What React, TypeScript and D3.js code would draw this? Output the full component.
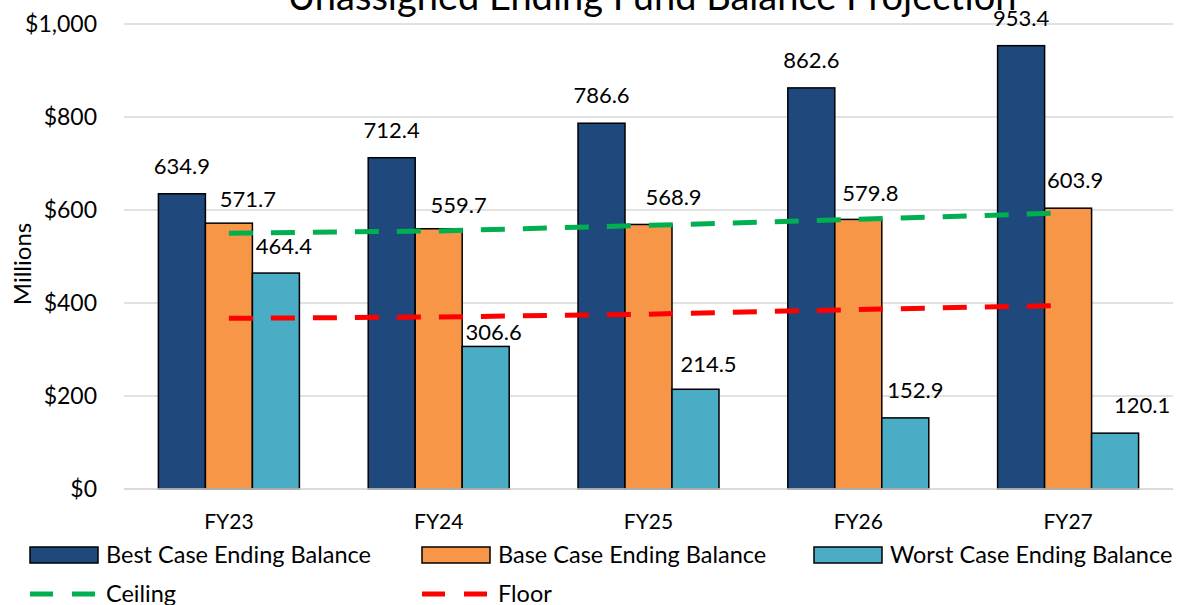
import React, { useEffect, useRef } from 'react';
import * as d3 from 'd3';

const categories = ['FY23', 'FY24', 'FY25', 'FY26', 'FY27'];
const bestCase = [634.9, 712.4, 786.6, 862.6, 953.4];
const baseCase = [571.7, 559.7, 568.9, 579.8, 603.9];
const worstCase = [464.4, 306.6, 214.5, 152.9, 120.1];
const ceiling = [550, 555, 567, 580, 594];
const floor = [367, 370, 376, 386, 395];
const yTicks = [0, 200, 400, 600, 800, 1000];

// manual label nudges (px), like the hand-placed labels in the original workbook
const labelDx = [
  [0, 19, 8],
  [0, 20, 8],
  [0, 25, 13],
  [0, 12, 10],
  [0, 7, 27],
];
const labelGap = [
  [20, 16, 19],
  [20, 16, 6],
  [20, 19, 17],
  [20, 18, 20],
  [20, 20, 20],
];

const FONT = 'Lato, Carlito, Calibri, sans-serif';

const App: React.FC = () => {
  const ref = useRef<SVGSVGElement>(null);

  useEffect(() => {
    drawChart();
  }, []);

  const drawChart = () => {
    const width = 1178;
    const height = 605;
    const margin = { top: 24, right: 5, bottom: 116, left: 124 };

    d3.select(ref.current).selectAll('*').remove();
    const svg = d3.select(ref.current).attr('width', width).attr('height', height);

    const series = [
      { name: 'Best Case Ending Balance', values: bestCase, color: '#1F497D' },
      { name: 'Base Case Ending Balance', values: baseCase, color: '#F79646' },
      { name: 'Worst Case Ending Balance', values: worstCase, color: '#4BACC6' },
    ];

    const x = d3.scaleBand<string>()
      .domain(categories)
      .range([margin.left, width - margin.right])
      .paddingInner(0.328)
      .paddingOuter(0.164);

    const xSub = d3.scaleBand<number>()
      .domain([0, 1, 2])
      .range([0, x.bandwidth()]);

    const y = d3.scaleLinear()
      .domain([0, 1000])
      .range([height - margin.bottom, margin.top]);

    // gridlines
    svg.selectAll('.grid')
      .data(yTicks)
      .enter().append('line')
      .attr('x1', margin.left)
      .attr('x2', width - margin.right)
      .attr('y1', d => y(d))
      .attr('y2', d => y(d))
      .attr('stroke', '#D9D9D9')
      .attr('stroke-width', 1.5);

    // y tick labels
    svg.selectAll('.ytick')
      .data(yTicks)
      .enter().append('text')
      .attr('x', 97)
      .attr('y', d => y(d))
      .attr('dy', '0.35em')
      .attr('text-anchor', 'end')
      .style('font-family', FONT)
      .style('font-size', '23px')
      .attr('fill', '#000')
      .text(d => '$' + d3.format(',')(d));

    // y axis title
    svg.append('text')
      .attr('transform', 'translate(31, 264) rotate(-90)')
      .attr('text-anchor', 'middle')
      .style('font-family', FONT)
      .style('font-size', '24px')
      .text('Millions');

    // title (cut off at the top like the original)
    svg.append('text')
      .attr('x', 652)
      .attr('y', 10)
      .attr('text-anchor', 'middle')
      .style('font-family', FONT)
      .style('font-size', '38px')
      .text('Unassigned Ending Fund Balance Projection');

    // bars
    series.forEach((s, si) => {
      svg.selectAll(`.bar-${si}`)
        .data(s.values)
        .enter().append('rect')
        .attr('x', (d, i) => (x(categories[i]) as number) + (xSub(si) as number))
        .attr('y', d => y(d))
        .attr('width', xSub.bandwidth())
        .attr('height', d => y(0) - y(d))
        .attr('fill', s.color)
        .attr('stroke', '#000')
        .attr('stroke-width', 1.5);
    });

    // reference lines
    const line = d3.line<number>()
      .x((d, i) => (x(categories[i]) as number) + x.bandwidth() / 2)
      .y(d => y(d));

    [{ values: ceiling, color: '#00B050' }, { values: floor, color: '#FF0000' }].forEach(l => {
      svg.append('path')
        .attr('d', line(l.values) as string)
        .attr('fill', 'none')
        .attr('stroke', l.color)
        .attr('stroke-width', 5)
        .attr('stroke-dasharray', '24 18');
    });

    // value labels
    series.forEach((s, si) => {
      svg.selectAll(`.label-${si}`)
        .data(s.values)
        .enter().append('text')
        .attr('x', (d, i) => (x(categories[i]) as number) + (xSub(si) as number) + xSub.bandwidth() / 2 + labelDx[i][si])
        .attr('y', (d, i) => y(d) - labelGap[i][si])
        .attr('text-anchor', 'middle')
        .style('font-family', FONT)
        .style('font-size', '22px')
        .attr('fill', '#000')
        .text(d => d.toFixed(1));
    });

    // x axis line and labels
    svg.append('line')
      .attr('x1', margin.left)
      .attr('x2', width - margin.right)
      .attr('y1', y(0))
      .attr('y2', y(0))
      .attr('stroke', '#D9D9D9')
      .attr('stroke-width', 1.5);

    svg.selectAll('.xlabel')
      .data(categories)
      .enter().append('text')
      .attr('x', d => (x(d) as number) + x.bandwidth() / 2)
      .attr('y', 529)
      .attr('text-anchor', 'middle')
      .style('font-family', FONT)
      .style('font-size', '21px')
      .text(d => d);

    // legend
    const legendItems = [
      ...series.map(s => ({ name: s.name, color: s.color, type: 'rect' })),
      { name: 'Ceiling', color: '#00B050', type: 'line' },
      { name: 'Floor', color: '#FF0000', type: 'line' },
    ];
    const legend = svg.selectAll('.legend')
      .data(legendItems)
      .enter().append('g')
      .attr('transform', (d, i) => `translate(${30 + (i % 3) * 392}, ${i < 3 ? 555 : 594})`);

    legend.filter(d => d.type === 'rect').append('rect')
      .attr('x', 0)
      .attr('y', -8)
      .attr('width', 68)
      .attr('height', 16)
      .attr('fill', d => d.color)
      .attr('stroke', '#000')
      .attr('stroke-width', 1.5);

    legend.filter(d => d.type === 'line').append('line')
      .attr('x1', 0)
      .attr('x2', 68)
      .attr('y1', 0)
      .attr('y2', 0)
      .attr('stroke', d => d.color)
      .attr('stroke-width', 5)
      .attr('stroke-dasharray', '23 19');

    legend.append('text')
      .attr('x', 76)
      .attr('y', 0)
      .attr('dy', '0.35em')
      .style('font-family', FONT)
      .style('font-size', '23.5px')
      .text(d => d.name);
  };

  return (
    <div style={{ position: 'absolute', left: 0, top: 0 }}>
      <svg ref={ref} style={{ display: 'block' }}></svg>
    </div>
  );
};

export default App;
